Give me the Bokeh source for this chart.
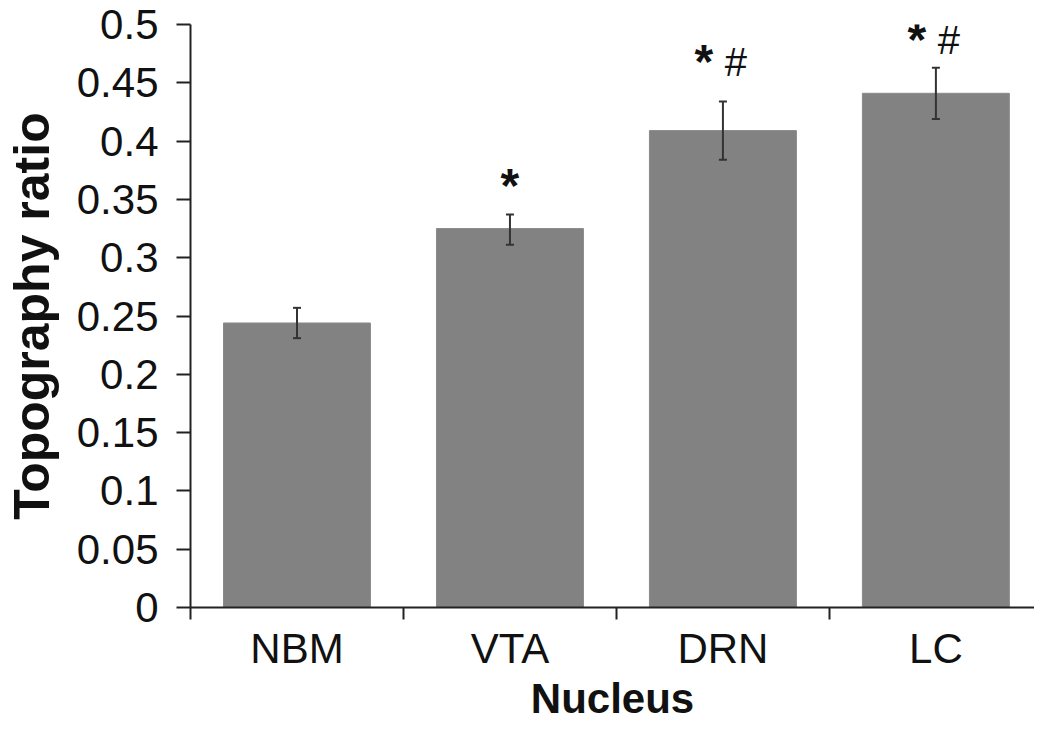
from bokeh.plotting import figure
from bokeh.models import ColumnDataSource, Range1d, FixedTicker, Whisker, TeeHead
from bokeh.core.properties import value
from bokeh.embed import file_html
from bokeh.resources import INLINE

# ---- data ----
nuclei = ["NBM", "VTA", "DRN", "LC"]
ratio = [0.244, 0.325, 0.409, 0.441]
err_upper = [0.257, 0.337, 0.434, 0.463]
err_lower = [0.231, 0.311, 0.384, 0.419]

y_ticks = [0, 0.05, 0.1, 0.15, 0.2, 0.25, 0.3, 0.35, 0.4, 0.45, 0.5]
y_tick_labels = ["0", "0.05", "0.1", "0.15", "0.2", "0.25", "0.3", "0.35", "0.4", "0.45", "0.5"]

star_nuclei = ["VTA", "DRN", "LC"]
star_y = [0.362, 0.468, 0.487]
hash_nuclei = ["DRN", "LC"]
hash_y = [0.468, 0.487]

# ---- derived positions ----
xc = [i + 0.5 for i in range(len(nuclei))]
src = ColumnDataSource(dict(x=xc, top=ratio, upper=err_upper, lower=err_lower))

star_x = [nuclei.index(n) + 0.5 for n in star_nuclei]
star_dx = [(-19 if n in hash_nuclei else 0) for n in star_nuclei]
star_src = ColumnDataSource(dict(x=star_x, y=star_y, dx=star_dx, t=["*"] * len(star_x)))
hash_x = [nuclei.index(n) + 0.5 for n in hash_nuclei]
hash_src = ColumnDataSource(dict(x=hash_x, y=hash_y, dx=[13] * len(hash_x), t=["#"] * len(hash_x)))

FONT = "Liberation Sans"
AX = "#222222"

p = figure(width=1034, height=729, output_backend="svg", toolbar_location=None,
           x_range=Range1d(0, 3.963), y_range=Range1d(0, 0.5),
           min_border_left=187, min_border_right=0, min_border_top=24, min_border_bottom=122)
p.outline_line_color = None
p.xgrid.visible = False
p.ygrid.visible = False
p.background_fill_color = "white"
p.border_fill_color = "white"

p.vbar(x="x", top="top", width=0.69, bottom=0, source=src,
       fill_color="#828282", line_color="#8a8a8a", line_width=1)

w = Whisker(base="x", upper="upper", lower="lower", source=src, level="overlay",
            line_color="#333333", line_width=2,
            upper_head=TeeHead(size=8, line_color="#333333", line_width=2),
            lower_head=TeeHead(size=8, line_color="#333333", line_width=2))
p.add_layout(w)

p.text(x="x", y="y", text="t", x_offset="dx", source=star_src,
       text_font=value(FONT), text_font_style="bold", text_font_size="48px",
       text_align="center", text_baseline="middle", text_color="#111111")
p.text(x="x", y="y", text="t", x_offset="dx", source=hash_src,
       text_font=value(FONT), text_font_size="40px",
       text_align="center", text_baseline="middle", text_color="#111111")

# x axis: labels at centres, ticks at boundaries
xa = p.xaxis[0]
xa.ticker = FixedTicker(ticks=xc, minor_ticks=list(range(len(nuclei) + 1)))
xa.major_label_overrides = {x: n for x, n in zip(xc, nuclei)}
xa.major_tick_out = 0
xa.major_tick_in = 0
xa.minor_tick_out = 12
xa.minor_tick_in = 0
xa.minor_tick_line_color = AX
xa.minor_tick_line_width = 2
xa.axis_line_color = AX
xa.axis_line_width = 2
xa.major_label_text_font = FONT
xa.major_label_text_font_size = "42px"
xa.major_label_text_color = "#111111"
xa.major_label_standoff = 5
xa.axis_label = "Nucleus"
xa.axis_label_text_font = FONT
xa.axis_label_text_font_style = "bold"
xa.axis_label_text_font_size = "42px"
xa.axis_label_text_color = "#111111"
xa.axis_label_standoff = 0

ya = p.yaxis[0]
ya.ticker = FixedTicker(ticks=y_ticks, minor_ticks=[])
ya.major_label_overrides = {t: s for t, s in zip(y_ticks, y_tick_labels)}
ya.major_tick_out = 14
ya.major_tick_in = 0
ya.major_tick_line_color = AX
ya.major_tick_line_width = 2
ya.axis_line_color = AX
ya.axis_line_width = 2
ya.major_label_text_font = FONT
ya.major_label_text_font_size = "42px"
ya.major_label_text_color = "#111111"
ya.major_label_standoff = 18
ya.axis_label = "Topography ratio"
ya.axis_label_text_font = FONT
ya.axis_label_text_font_style = "bold"
ya.axis_label_text_font_size = "50px"
ya.axis_label_text_color = "#111111"
ya.axis_label_standoff = 14

open("out.html", "w").write(file_html(p, INLINE))
